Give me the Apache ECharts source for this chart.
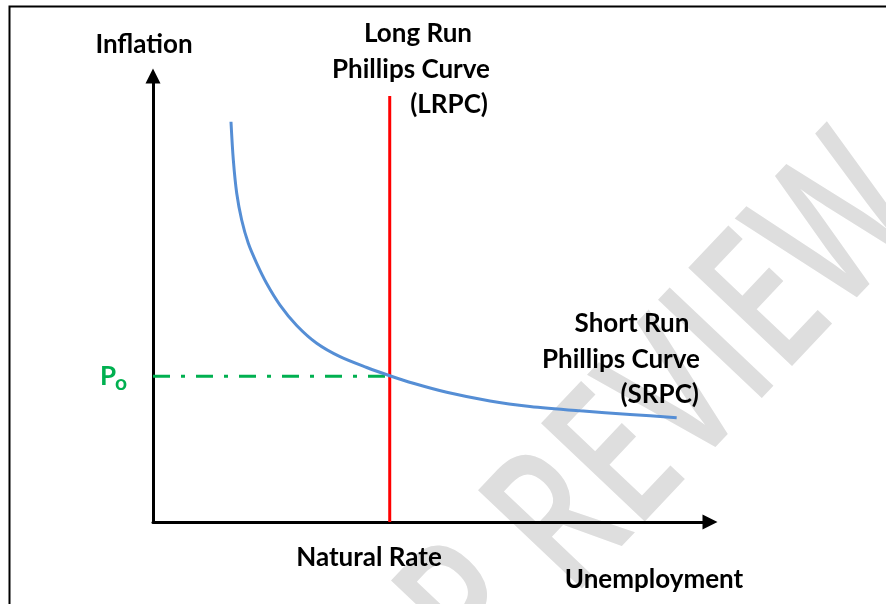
<!DOCTYPE html>
<html>
<head>
<meta charset="utf-8">
<script src="https://cdn.jsdelivr.net/npm/echarts@6/dist/echarts.min.js"></script>
<style>
html,body{margin:0;padding:0;background:#fff;}
#chart{width:886px;height:604px;}
</style>
</head>
<body>
<div id="chart"></div>
<script>
// Short-run Phillips curve points [unemployment, inflation] (arbitrary units 0-10)
const srpcX = [1.400, 1.442, 1.503, 1.592, 1.711, 1.862, 2.041, 2.280, 2.580, 2.939, 3.357, 3.837, 4.264, 4.673, 5.273, 6.050, 6.768, 7.666, 8.564, 9.402];
const srpcY = [8.975, 8.117, 7.370, 6.771, 6.249, 5.800, 5.348, 4.865, 4.406, 4.007, 3.706, 3.464, 3.274, 3.110, 2.908, 2.713, 2.590, 2.492, 2.412, 2.339];
const naturalRate = 4.25;   // LRPC position on unemployment axis
const lrpcTop = 9.55;       // top of LRPC line
const p0 = 3.27;            // inflation at equilibrium
const axisMax = [10, 10];

const FONT = 'Lato';
const chart = echarts.init(document.getElementById('chart'), null, {renderer: 'canvas'});

function lbl(text, x, y, align, color, size) {
  return {
    type: 'text', x: x, y: y, z: 10,
    style: {
      text: text, fill: color || '#000', fontFamily: FONT, fontWeight: 'bold',
      fontSize: size || 26, textAlign: align || 'center', textVerticalAlign: 'middle'
    }
  };
}
const wmRot = 46.6 * Math.PI / 180;
function wm(text, x, y, align) {
  return {
    type: 'text', x: x, y: y, rotation: wmRot, scaleX: 0.72, z: -1, silent: true,
    style: {text: text, fill: '#dedede', fontFamily: 'Open Sans', fontWeight: 600,
      fontSize: 200, textAlign: align, textVerticalAlign: 'middle'}
  };
}

const option = {
  animation: false,
  backgroundColor: '#fff',
  grid: {left: 153, right: 176, top: 76, bottom: 82, containLabel: false},
  xAxis: {
    type: 'value', min: 0, max: axisMax[0],
    axisLine: {show: true, symbol: ['none', 'triangle'], symbolSize: [15, 15],
      lineStyle: {color: '#000', width: 3}},
    axisTick: {show: false}, axisLabel: {show: false}, splitLine: {show: false}
  },
  yAxis: {
    type: 'value', min: 0, max: axisMax[1],
    axisLine: {show: true, symbol: ['none', 'triangle'], symbolSize: [15, 15],
      lineStyle: {color: '#000', width: 3}},
    axisTick: {show: false}, axisLabel: {show: false}, splitLine: {show: false}
  },
  graphic: [
    {type: 'rect', shape: {x: 9.5, y: 6.5, width: 1000, height: 1000}, z: 0,
      style: {fill: 'none', stroke: '#000', lineWidth: 2}},
    wm('REVIEW', 531, 559, 'left'),
    wm('AP', 505, 585, 'right'),
    lbl('Inflation', 144, 45),
    lbl('Long Run', 418, 34),
    lbl('Phillips Curve', 411, 70),
    lbl('(LRPC)', 488, 105, 'right'),
    lbl('Short Run', 632, 324),
    lbl('Phillips Curve', 621, 360),
    lbl('(SRPC)', 699, 395, 'right'),
    lbl('Natural Rate', 369, 558),
    lbl('Unemployment', 654, 580),
    lbl('P', 108, 377, 'center', '#00B050'),
    lbl('o', 121, 383, 'center', '#00B050', 21)
  ],
  series: [
    {
      type: 'line', name: 'P0', data: [[0, p0], [naturalRate, p0]], symbol: 'none', z: 3,
      lineStyle: {color: '#00B050', width: 3, type: [17, 11, 4, 11]}
    },
    {
      type: 'line', name: 'LRPC', data: [[naturalRate, 0], [naturalRate, lrpcTop]], symbol: 'none', z: 4,
      lineStyle: {color: '#FF0000', width: 3}
    },
    {
      type: 'line', name: 'SRPC', data: srpcX.map((x, i) => [x, srpcY[i]]), symbol: 'none', z: 5,
      smooth: 0.3,
      lineStyle: {color: '#558ED5', width: 3}
    }
  ]
};
chart.setOption(option);
</script>
</body>
</html>
